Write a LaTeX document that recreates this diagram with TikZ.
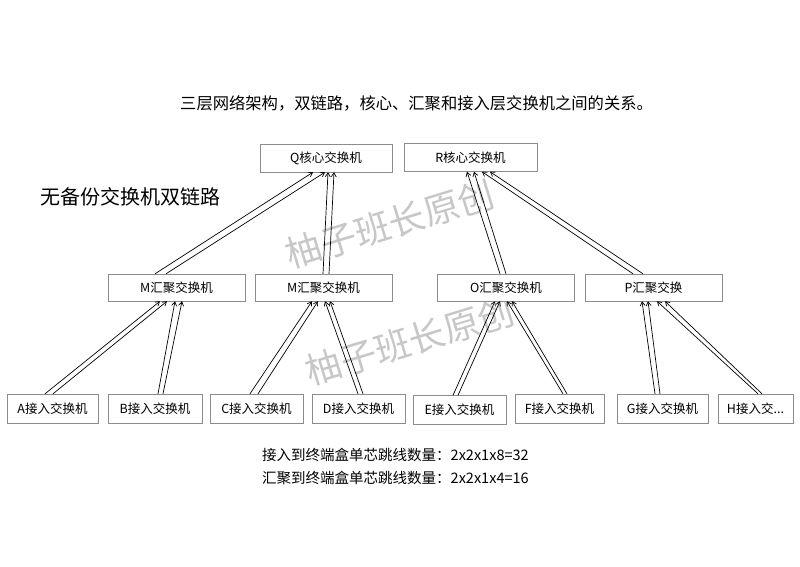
\documentclass[tikz,border=0pt]{standalone}
\usepackage{fontspec}
\newfontfamily\cjk{Noto Sans CJK SC}
\usepackage{tikz}
\usetikzlibrary{positioning, arrows.meta, calc}

\begin{document}
\begin{tikzpicture}[x=1pt, y=-1pt,
  box/.style={draw=black!45, fill=white, inner sep=0pt, minimum height=28pt, font=\cjk\fontsize{12.5}{14}\selectfont},
  link/.style={line width=0.7pt, -{Straight Barb[length=4pt,width=5pt]}},
  txt/.style={inner sep=0pt, anchor=west},
  wmark/.style={text=black!22, rotate=17, inner sep=0pt, font=\cjk\fontsize{36}{40}\selectfont}]
\useasboundingbox (0,0) rectangle (800,566);

% Watermark
\node[wmark] (W1) at (390,224) {柚子班长原创};
\node[wmark] (W2) at (410,341) {柚子班长原创};

% Titles
\node[txt, font=\cjk\fontsize{16.3}{18}\selectfont] (title) at (180,103) {三层网络架构，双链路，核心、汇聚和接入层交换机之间的关系。};
\node[txt, font=\cjk\fontsize{20}{22}\selectfont] (sub) at (40,197) {无备份交换机双链路};

% Core
\node[box, minimum width=132pt] (Q) at (326,158) {Q核心交换机};
\node[box, minimum width=133pt] (R) at (470.5,157.5) {R核心交换机};

% Aggregation
\foreach \n/\x/\lab in {M1/176.5/M汇聚交换机, M2/323.5/M汇聚交换机, O/506/O汇聚交换机, P/653.5/P汇聚交换}{
  \node[box, minimum width=137pt, minimum height=27pt] (\n) at (\x,287.5) {\lab};
}

% Access
\foreach \n/\x/\y/\w in {A/52.5/408.5/91, B/155/408.5/94, C/256.5/408.5/93, D/358.5/408.5/93,
    E/459.5/410/93, F/559.5/408.5/89, G/662.5/408.5/91}{
  \node[box, minimum width=\w pt, minimum height=29pt] (\n) at (\x,\y) {{\n}接入交换机};
}
\node[box, minimum width=75pt, minimum height=29pt] (H) at (755.5,408.5) {H接入交...};

% Double links
\foreach \s/\t/\a/\b/\c/\d in {M1/Q/-21.5/-10.5/-13/-1, M2/Q/-0.5/5.5/2/8,
    O/R/-6/0/-3.5/3.5, P/R/-20.5/-10.5/11.5/19.5,
    A/M1/-7.5/0.5/-16.5/-9.5, B/M1/3/8/-1.5/5.5,
    C/M2/-6.5/1.5/-11.5/-5.5, D/M2/-0.5/4.5/1.5/6.5,
    E/O/-6.5/-1.5/-11/-6, F/O/3.5/7.5/1/6,
    G/P/-7.5/-2.5/-11.5/-5.5, H/P/2.5/6.5/3.5/11.5}{
  \draw[link] ($(\s.north)+(\a,0)$) -- ($(\t.south)+(\c,0)$);
  \draw[link] ($(\s.north)+(\b,0)$) -- ($(\t.south)+(\d,0)$);
}

% Counts
\node[txt, font=\cjk\fontsize{14.5}{16}\selectfont] (n1) at (262,455) {接入到终端盒单芯跳线数量：2x2x1x8=32};
\node[txt, font=\cjk\fontsize{14.5}{16}\selectfont] (n2) at (262,478) {汇聚到终端盒单芯跳线数量：2x2x1x4=16};
\end{tikzpicture}
\end{document}
